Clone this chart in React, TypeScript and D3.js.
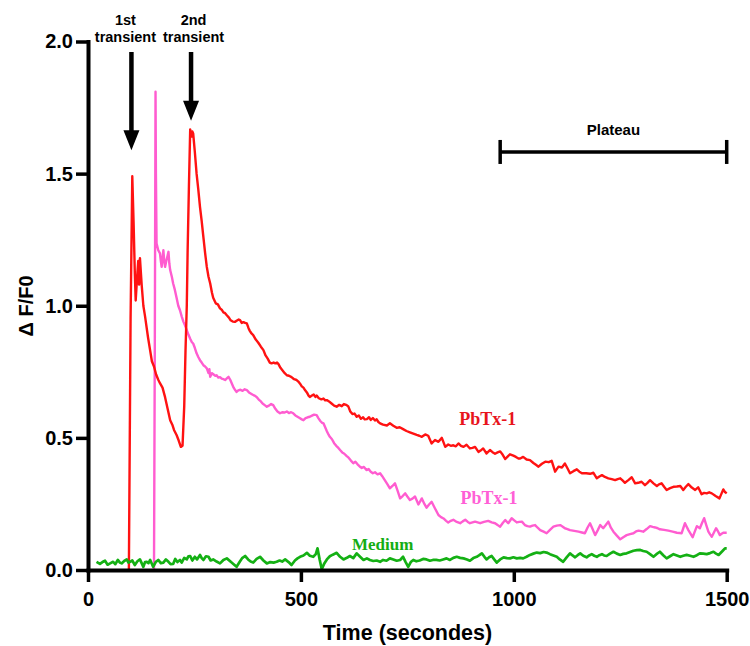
import { axisBottom, axisLeft, line, scaleLinear, select } from "d3";
import { useEffect, useRef } from "react";

// time (s), dF/F0
const pbtxRed: [number, number][] = [
  [96, 0], [100, 0.95], [104, 1.49], [107, 1.32], [110, 1.12], [112, 1.02], [115, 1.1], [118, 1.17], [120, 1.08],
  [122, 1.18], [126, 1.08], [130, 1.0], [134, 0.96], [141, 0.88], [146, 0.83], [150, 0.79], [155, 0.77], [160, 0.74],
  [165, 0.72], [169, 0.707], [175, 0.69], [181, 0.654], [187, 0.61], [193, 0.567], [198, 0.55], [202, 0.53],
  [208, 0.511], [213, 0.49], [218, 0.466], [222, 0.47], [226, 0.62], [229, 0.83], [232, 1.0], [234, 1.21],
  [237, 1.45], [240, 1.667], [243, 1.64], [245, 1.66], [247, 1.652], [251, 1.58], [255, 1.5], [259, 1.44],
  [263, 1.374], [267, 1.32], [271, 1.26], [275, 1.2], [279, 1.147], [283, 1.11], [287, 1.084], [291, 1.05],
  [294, 1.03], [300, 1.009], [305, 1.005], [310, 0.99], [314, 0.985], [318, 0.975], [322, 0.972], [326, 0.964],
  [331, 0.955], [335, 0.945], [340, 0.94], [345, 0.939], [350, 0.944], [354, 0.948], [357, 0.946], [361, 0.935],
  [365, 0.938], [369, 0.935], [373, 0.933], [377, 0.915], [380, 0.905], [384, 0.895], [388, 0.889], [394, 0.872],
  [400, 0.86], [406, 0.845], [412, 0.832], [417, 0.812], [422, 0.8], [427, 0.785], [431, 0.782], [436, 0.785],
  [440, 0.782], [444, 0.785], [447, 0.78], [452, 0.765], [457, 0.755], [462, 0.745], [467, 0.737], [472, 0.735],
  [478, 0.73], [484, 0.722], [490, 0.719], [494, 0.713], [498, 0.705], [502, 0.695], [506, 0.69], [510, 0.68],
  [514, 0.672], [518, 0.66], [521, 0.655], [526, 0.66], [530, 0.664], [534, 0.655], [537, 0.66], [542, 0.65],
  [548, 0.646], [553, 0.649], [557, 0.642], [561, 0.643], [566, 0.638], [572, 0.63], [578, 0.622], [584, 0.618],
  [590, 0.625], [596, 0.62], [601, 0.628], [606, 0.625], [611, 0.62], [616, 0.6], [621, 0.59], [626, 0.592],
  [631, 0.58], [636, 0.585], [641, 0.572], [646, 0.578], [650, 0.57], [655, 0.571], [660, 0.578], [664, 0.568],
  [669, 0.575], [674, 0.566], [678, 0.57], [682, 0.56], [686, 0.555], [693, 0.55], [702, 0.547], [709, 0.555],
  [717, 0.546], [725, 0.538], [732, 0.54], [740, 0.533], [748, 0.526], [756, 0.521], [764, 0.516], [772, 0.511],
  [778, 0.508], [784, 0.504], [792, 0.513], [799, 0.508], [807, 0.479], [815, 0.492], [823, 0.485], [831, 0.5],
  [839, 0.466], [846, 0.475], [852, 0.47], [858, 0.472], [864, 0.468], [870, 0.479], [876, 0.47], [882, 0.466],
  [889, 0.474], [897, 0.46], [903, 0.462], [909, 0.466], [917, 0.447], [922, 0.452], [928, 0.46], [936, 0.441],
  [944, 0.454], [950, 0.446], [956, 0.44], [962, 0.445], [968, 0.449], [974, 0.436], [980, 0.42], [986, 0.43],
  [991, 0.438], [999, 0.433], [1005, 0.428], [1011, 0.422], [1015, 0.422], [1022, 0.428], [1030, 0.418],
  [1038, 0.416], [1046, 0.405], [1052, 0.398], [1058, 0.391], [1066, 0.402], [1074, 0.41], [1082, 0.408],
  [1089, 0.413], [1097, 0.372], [1105, 0.391], [1113, 0.388], [1120, 0.403], [1126, 0.385], [1132, 0.366],
  [1140, 0.374], [1148, 0.381], [1154, 0.372], [1160, 0.366], [1170, 0.366], [1179, 0.364], [1187, 0.368],
  [1195, 0.347], [1201, 0.354], [1207, 0.359], [1214, 0.352], [1222, 0.347], [1230, 0.344], [1238, 0.34],
  [1244, 0.344], [1250, 0.347], [1256, 0.338], [1261, 0.33], [1269, 0.34], [1277, 0.351], [1285, 0.328],
  [1292, 0.33], [1300, 0.334], [1308, 0.321], [1314, 0.33], [1320, 0.34], [1328, 0.328], [1336, 0.318],
  [1341, 0.324], [1347, 0.328], [1353, 0.315], [1359, 0.303], [1367, 0.31], [1375, 0.315], [1383, 0.316],
  [1391, 0.318], [1398, 0.303], [1404, 0.315], [1410, 0.325], [1418, 0.312], [1426, 0.303], [1433, 0.313],
  [1441, 0.287], [1447, 0.292], [1453, 0.29], [1459, 0.294], [1465, 0.29], [1474, 0.28], [1483, 0.271],
  [1488, 0.29], [1492, 0.305], [1496, 0.295], [1500, 0.29],
];

const pbtxPink: [number, number][] = [
  [155, 0], [157, 0.9], [158.6, 1.81], [159.5, 1.5], [161, 1.236], [165, 1.21], [169, 1.198], [171, 1.17],
  [173, 1.147], [175, 1.18], [177, 1.21], [179, 1.17], [181, 1.147], [184, 1.17], [187, 1.19], [189, 1.204],
  [191, 1.16], [193, 1.135], [197, 1.109], [200, 1.084], [204, 1.06], [208, 1.03], [212, 1.0], [216, 0.983],
  [220, 0.96], [224, 0.94], [228, 0.925], [232, 0.908], [236, 0.89], [240, 0.875], [244, 0.862], [247, 0.857],
  [251, 0.84], [255, 0.82], [259, 0.806], [263, 0.794], [267, 0.785], [271, 0.775], [275, 0.77], [279, 0.763],
  [283, 0.745], [285, 0.76], [287, 0.731], [291, 0.745], [295, 0.74], [299, 0.735], [302, 0.737], [306, 0.728],
  [310, 0.73], [314, 0.724], [318, 0.722], [322, 0.719], [326, 0.725], [330, 0.731], [334, 0.72], [338, 0.705],
  [342, 0.69], [346, 0.68], [349, 0.674], [353, 0.68], [358, 0.682], [363, 0.678], [368, 0.684], [373, 0.681],
  [378, 0.672], [382, 0.668], [386, 0.664], [391, 0.66], [396, 0.655], [401, 0.645], [406, 0.638], [410, 0.63],
  [415, 0.624], [420, 0.618], [425, 0.622], [430, 0.628], [435, 0.624], [440, 0.61], [445, 0.6], [451, 0.593],
  [456, 0.597], [462, 0.596], [467, 0.6], [472, 0.594], [477, 0.597], [482, 0.593], [487, 0.585], [492, 0.58],
  [497, 0.575], [502, 0.57], [506, 0.567], [511, 0.575], [516, 0.578], [521, 0.58], [526, 0.584], [531, 0.588],
  [537, 0.586], [541, 0.575], [545, 0.565], [549, 0.558], [553, 0.555], [557, 0.54], [561, 0.525], [565, 0.512],
  [568, 0.504], [573, 0.495], [578, 0.48], [583, 0.47], [588, 0.462], [592, 0.454], [597, 0.445], [602, 0.44],
  [607, 0.432], [612, 0.425], [617, 0.415], [623, 0.404], [628, 0.41], [633, 0.4], [638, 0.392], [643, 0.386],
  [648, 0.39], [654, 0.378], [659, 0.382], [664, 0.372], [669, 0.366], [674, 0.37], [680, 0.362], [686, 0.366],
  [691, 0.355], [697, 0.34], [703, 0.325], [709, 0.309], [715, 0.318], [721, 0.328], [727, 0.3], [733, 0.271],
  [739, 0.28], [745, 0.29], [750, 0.278], [756, 0.265], [762, 0.27], [768, 0.278], [776, 0.248], [784, 0.271],
  [790, 0.25], [795, 0.236], [801, 0.248], [807, 0.258], [815, 0.233], [823, 0.208], [829, 0.2], [835, 0.195],
  [841, 0.186], [846, 0.18], [852, 0.186], [858, 0.19], [866, 0.182], [874, 0.177], [880, 0.184], [886, 0.19],
  [892, 0.182], [897, 0.177], [903, 0.18], [909, 0.183], [915, 0.18], [921, 0.177], [930, 0.182], [940, 0.186],
  [948, 0.18], [956, 0.177], [962, 0.17], [968, 0.164], [974, 0.178], [980, 0.189], [987, 0.177], [995, 0.196],
  [1001, 0.188], [1007, 0.18], [1013, 0.182], [1019, 0.183], [1026, 0.17], [1032, 0.166], [1038, 0.164],
  [1044, 0.168], [1050, 0.17], [1056, 0.16], [1062, 0.151], [1070, 0.145], [1077, 0.139], [1085, 0.152],
  [1093, 0.164], [1101, 0.168], [1109, 0.17], [1115, 0.164], [1120, 0.158], [1126, 0.155], [1132, 0.151],
  [1142, 0.148], [1152, 0.145], [1160, 0.142], [1167, 0.139], [1173, 0.16], [1179, 0.177], [1185, 0.155],
  [1191, 0.132], [1197, 0.15], [1203, 0.17], [1210, 0.158], [1216, 0.17], [1222, 0.183], [1228, 0.16],
  [1234, 0.145], [1242, 0.13], [1250, 0.116], [1258, 0.125], [1265, 0.132], [1273, 0.136], [1281, 0.139],
  [1287, 0.146], [1293, 0.149], [1299, 0.147], [1304, 0.145], [1312, 0.155], [1320, 0.166], [1326, 0.163],
  [1332, 0.161], [1338, 0.158], [1343, 0.154], [1353, 0.152], [1363, 0.149], [1373, 0.145], [1383, 0.141],
  [1389, 0.14], [1394, 0.139], [1398, 0.158], [1402, 0.177], [1406, 0.164], [1410, 0.151], [1415, 0.138],
  [1420, 0.124], [1425, 0.145], [1430, 0.166], [1437, 0.158], [1442, 0.178], [1447, 0.196], [1452, 0.17],
  [1457, 0.145], [1461, 0.135], [1465, 0.126], [1470, 0.142], [1475, 0.158], [1480, 0.145], [1484, 0.132],
  [1488, 0.137], [1492, 0.141], [1500, 0.141],
];

const medium: [number, number][] = [
  [20, 0.031], [28, 0.023], [34, 0.03], [40, 0.035], [46, 0.02], [52, 0.025], [59, 0.031], [64, 0.022],
  [70, 0.038], [75, 0.028], [79, 0.025], [85, 0.034], [91, 0.04], [95, 0.028], [99, 0.031], [104, 0.036],
  [110, 0.019], [116, 0.033], [122, 0.04], [130, 0.012], [134, 0.03], [138, 0.031], [142, 0.026], [146, 0.038],
  [153, 0.012], [159, 0.03], [165, 0.038], [171, 0.026], [177, 0.028], [183, 0.04], [189, 0.031], [194, 0.022],
  [200, 0.023], [205, 0.042], [210, 0.03], [216, 0.038], [220, 0.028], [226, 0.046], [232, 0.04], [236, 0.052],
  [240, 0.053], [245, 0.036], [251, 0.05], [256, 0.04], [263, 0.057], [267, 0.045], [271, 0.038], [277, 0.052],
  [283, 0.05], [288, 0.036], [294, 0.04], [302, 0.032], [310, 0.025], [318, 0.038], [326, 0.044], [336, 0.03],
  [342, 0.022], [349, 0.012], [356, 0.03], [362, 0.045], [369, 0.053], [376, 0.04], [382, 0.032], [388, 0.028],
  [396, 0.042], [404, 0.05], [412, 0.036], [420, 0.025], [428, 0.03], [436, 0.028], [443, 0.031], [450, 0.036],
  [456, 0.032], [463, 0.04], [471, 0.03], [478, 0.019], [486, 0.036], [492, 0.044], [498, 0.05], [506, 0.055],
  [514, 0.065], [521, 0.054], [529, 0.05], [535, 0.06], [539, 0.082], [544, 0.04], [549, 0.003], [555, 0.025],
  [561, 0.04], [568, 0.052], [575, 0.058], [584, 0.065], [592, 0.05], [600, 0.04], [608, 0.046], [615, 0.053],
  [623, 0.045], [631, 0.063], [639, 0.05], [647, 0.038], [655, 0.044], [662, 0.038], [670, 0.034], [678, 0.036],
  [686, 0.031], [693, 0.038], [701, 0.035], [709, 0.044], [717, 0.04], [725, 0.035], [733, 0.038], [740, 0.05],
  [746, 0.03], [752, 0.012], [758, 0.03], [764, 0.038], [771, 0.033], [779, 0.036], [787, 0.042], [795, 0.04],
  [803, 0.035], [810, 0.038], [818, 0.038], [826, 0.036], [834, 0.04], [842, 0.044], [850, 0.038], [858, 0.046],
  [866, 0.05], [874, 0.046], [882, 0.044], [890, 0.04], [897, 0.035], [905, 0.045], [913, 0.05], [919, 0.056],
  [925, 0.063], [931, 0.05], [936, 0.04], [942, 0.048], [948, 0.053], [954, 0.04], [960, 0.028], [968, 0.04],
  [976, 0.048], [984, 0.045], [991, 0.044], [999, 0.048], [1007, 0.044], [1015, 0.046], [1022, 0.044],
  [1030, 0.05], [1038, 0.057], [1046, 0.062], [1054, 0.066], [1062, 0.064], [1070, 0.068], [1077, 0.066],
  [1085, 0.06], [1093, 0.055], [1101, 0.05], [1108, 0.04], [1116, 0.031], [1124, 0.048], [1132, 0.063],
  [1138, 0.055], [1144, 0.048], [1150, 0.056], [1156, 0.063], [1163, 0.054], [1171, 0.048], [1177, 0.055],
  [1183, 0.06], [1189, 0.054], [1195, 0.05], [1201, 0.056], [1207, 0.06], [1212, 0.055], [1218, 0.053],
  [1226, 0.062], [1234, 0.069], [1242, 0.062], [1250, 0.057], [1257, 0.061], [1265, 0.063], [1273, 0.068],
  [1281, 0.073], [1289, 0.075], [1297, 0.076], [1304, 0.072], [1312, 0.069], [1320, 0.06], [1328, 0.05],
  [1335, 0.06], [1343, 0.069], [1351, 0.056], [1359, 0.044], [1367, 0.052], [1375, 0.06], [1383, 0.055],
  [1391, 0.05], [1398, 0.054], [1406, 0.057], [1414, 0.054], [1422, 0.05], [1430, 0.056], [1437, 0.063],
  [1445, 0.062], [1453, 0.06], [1461, 0.064], [1469, 0.069], [1475, 0.062], [1481, 0.057], [1489, 0.07],
  [1496, 0.082], [1500, 0.082],
];

const xTicks = [0, 500, 1000, 1500];
const yTicks = [0, 0.5, 1.0, 1.5, 2.0];

// arrows: time (s), tip value, caption lines, caption shift
const arrows = [
  { t: 102, tip: 1.588, lines: ["1st", "transient"], dx: -6 },
  { t: 242, tip: 1.7, lines: ["2nd", "transient"], dx: 2.5 },
];
const plateau = { from: 968, to: 1500, level: 1.582, label: "Plateau" };

const seriesLabels = [
  { t: 872, v: 0.548, text: "PbTx-1", color: "#e8141c" },
  { t: 875, v: 0.248, text: "PbTx-1", color: "#ff5fd6" },
  { t: 620, v: 0.076, text: "Medium", color: "#14ad14" },
];

function App() {
  const w = 750;
  const h = 646;
  const svgRef = useRef(null);

  useEffect(() => {
    document.body.style.margin = "0";
    if (!svgRef.current) return;
    const svg = select(svgRef.current);
    svg.selectAll("*").remove();

    const x = scaleLinear().domain([0, 1500]).range([88, 726.7]);
    const y = scaleLinear().domain([0, 2]).range([570, 41.5]);
    const sans = "'Liberation Sans', Arial, sans-serif";
    const serif = "'Liberation Serif', 'Times New Roman', serif";

    const lineGen = line<[number, number]>()
      .x((d) => x(d[0]))
      .y((d) => y(d[1]));

    const plot = svg.append("g");
    plot.append("path").datum(pbtxPink).attr("d", lineGen).attr("fill", "none")
      .attr("stroke", "#ff5cd0").attr("stroke-width", 2.4).attr("stroke-linejoin", "round");
    plot.append("path").datum(pbtxRed).attr("d", lineGen).attr("fill", "none")
      .attr("stroke", "#ff1212").attr("stroke-width", 2.4).attr("stroke-linejoin", "round");
    plot.append("path").datum(medium).attr("d", lineGen).attr("fill", "none")
      .attr("stroke", "#14b014").attr("stroke-width", 2.7).attr("stroke-linejoin", "round");

    // axes
    const yAxis = axisLeft(y).tickValues(yTicks).tickFormat((d) => (d as number).toFixed(1))
      .tickSize(12).tickSizeOuter(0).tickPadding(3);
    const xAxis = axisBottom(x).tickValues(xTicks).tickFormat((d) => String(d))
      .tickSize(12).tickSizeOuter(0).tickPadding(10);

    const gy = svg.append("g").attr("transform", "translate(88,0)").call(yAxis);
    const gx = svg.append("g").attr("transform", "translate(0,570)").call(xAxis);
    [gx, gy].forEach((g) => {
      g.select(".domain").attr("stroke", "#000").attr("stroke-width", 4).attr("stroke-linecap", "square");
      g.selectAll(".tick line").attr("stroke", "#000").attr("stroke-width", 3.5);
      g.selectAll(".tick text").attr("fill", "#000").style("font-family", sans)
        .style("font-size", "20px").style("font-weight", "bold");
    });

    svg.append("text")
      .attr("x", 407.5).attr("y", 640).attr("text-anchor", "middle")
      .style("font-family", sans).style("font-size", "21.5px").style("font-weight", "bold")
      .text("Time (secondes)");

    svg.append("text")
      .attr("transform", "translate(33,306) rotate(-90)").attr("text-anchor", "middle")
      .style("font-family", sans).style("font-size", "20px").style("font-weight", "bold")
      .text("Δ F/F0");

    // arrows + captions
    arrows.forEach((a) => {
      const ax = x(a.t);
      const tipY = y(a.tip);
      svg.append("line").attr("x1", ax).attr("x2", ax).attr("y1", 52).attr("y2", tipY - 12)
        .attr("stroke", "#000").attr("stroke-width", 4.5);
      svg.append("path")
        .attr("d", `M${ax - 8},${tipY - 20}L${ax + 8},${tipY - 20}L${ax},${tipY}Z`)
        .attr("fill", "#000");
      a.lines.forEach((s, i) => {
        svg.append("text").attr("x", ax + a.dx).attr("y", 25 + i * 16.7)
          .attr("text-anchor", "middle")
          .style("font-family", sans).style("font-size", "14.5px").style("font-weight", "bold")
          .text(s);
      });
    });

    // plateau bracket
    const py = y(plateau.level);
    const px0 = x(plateau.from);
    const px1 = x(plateau.to);
    svg.append("line").attr("x1", px0).attr("x2", px1).attr("y1", py).attr("y2", py)
      .attr("stroke", "#000").attr("stroke-width", 3.5);
    [px0, px1].forEach((px) => {
      svg.append("line").attr("x1", px).attr("x2", px).attr("y1", py - 12).attr("y2", py + 12)
        .attr("stroke", "#000").attr("stroke-width", 3.5);
    });
    svg.append("text").attr("x", (px0 + px1) / 2).attr("y", 135).attr("text-anchor", "middle")
      .style("font-family", sans).style("font-size", "15px").style("font-weight", "bold")
      .text(plateau.label);

    // series labels
    seriesLabels.forEach((l) => {
      svg.append("text").attr("x", x(l.t)).attr("y", y(l.v))
        .attr("fill", l.color)
        .style("font-family", serif).style("font-size", l.text === "Medium" ? "17px" : "18px")
        .style("font-weight", "bold")
        .text(l.text);
    });
  }, [svgRef]);

  return (
    <div>
      <svg ref={svgRef} width={w} height={h} style={{ display: "block", background: "#fff" }}></svg>
    </div>
  );
}

export default App;
